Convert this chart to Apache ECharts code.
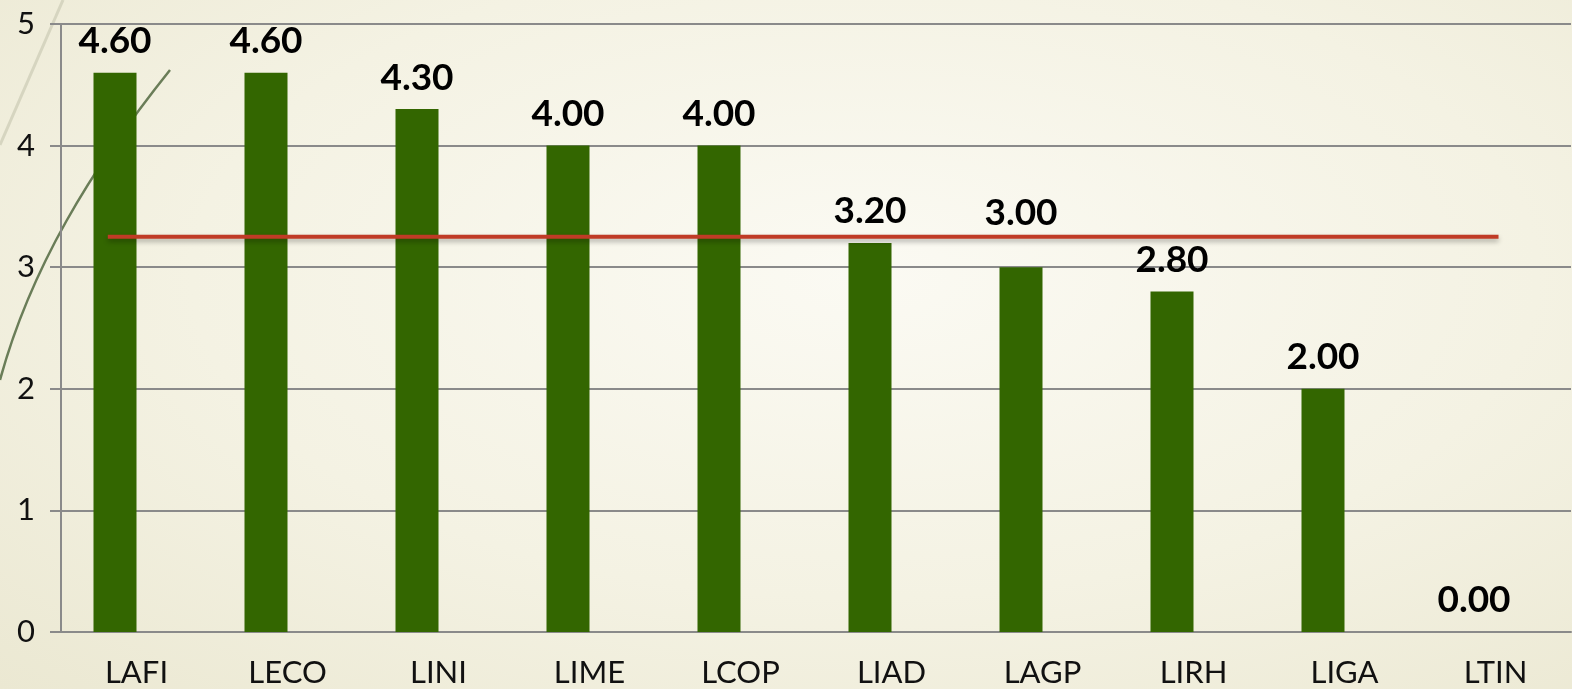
<!DOCTYPE html>
<html>
<head>
<meta charset="utf-8">
<script src="https://cdn.jsdelivr.net/npm/echarts@6/dist/echarts.min.js"></script>
<style>
  html, body { margin: 0; padding: 0; }
  #chart {
    width: 1572px; height: 689px;
    background: radial-gradient(ellipse at 55% 40%, #fbfaf3 0%, #f4f2e3 55%, #ebe8d2 100%);
  }
</style>
</head>
<body>
<div id="chart"></div>
<script>
// bar data
var categories = ['LAFI', 'LECO', 'LINI', 'LIME', 'LCOP', 'LIAD', 'LAGP', 'LIRH', 'LIGA', 'LTIN']
var scores = [4.6, 4.6, 4.3, 4.0, 4.0, 3.2, 3.0, 2.8, 2.0, 0.0]
// average line, drawn on a hidden 0..10 value axis (category units)
var avgSpan = [0.31, 9.52]
var yTicks = [0, 1, 2, 3, 4, 5]

var avg = scores.reduce(function(a, b) { return a + b }, 0) / scores.length
var avgLine = avgSpan.map(function(x) { return [x, avg] })

var labelFont = 'Lato, "DejaVu Sans", sans-serif'

// a label whose text would be crossed by the average line gets lifted above it
var barData = scores.map(function(v) {
  if (v + 0.16 < avg && v + 0.38 > avg) {
    return { value: v, label: { distance: 36 } }
  }
  return v
})

var chart = echarts.init(document.getElementById('chart'))
chart.setOption({
  animation: false,
  grid: { left: 61, right: 1, top: 24, bottom: 57 },
  xAxis: [{
    type: 'category',
    data: categories,
    axisLine: { lineStyle: { color: '#8a8a8a', width: 2 } },
    axisTick: { length: 11, lineStyle: { color: '#8a8a8a', width: 2 } },
    axisLabel: { color: '#111', fontSize: 31, fontFamily: labelFont, margin: 25 }
  }, {
    type: 'value',
    min: 0,
    max: 10,
    show: false
  }],
  yAxis: {
    type: 'value',
    min: yTicks[0],
    max: yTicks[yTicks.length - 1],
    interval: 1,
    axisLine: { show: true, lineStyle: { color: '#8a8a8a', width: 2 } },
    axisTick: { show: true, length: 11, lineStyle: { color: '#8a8a8a', width: 2 } },
    splitLine: { lineStyle: { color: '#8a8a8a', width: 2 } },
    axisLabel: { color: '#111', fontSize: 31, fontFamily: labelFont, margin: 26 }
  },
  graphic: [{
    type: 'line',
    shape: { x1: 63, y1: 0, x2: 0, y2: 145 },
    style: { stroke: '#d6d5c0', lineWidth: 3 },
    z: -1
  }, {
    type: 'bezierCurve',
    shape: { x1: 170, y1: 70, cpx1: 90, cpy1: 170, cpx2: 30, cpy2: 270, x2: 0, y2: 380 },
    style: { stroke: '#6a7d58', lineWidth: 2.5, fill: null },
    z: -1
  }],
  series: [{
    type: 'bar',
    data: barData,
    barWidth: 43,
    barGap: '0%',
    itemStyle: { color: '#336600' },
    label: {
      show: true,
      position: 'top',
      distance: 13,
      color: '#000',
      fontSize: 37,
      fontWeight: 'bold',
      fontFamily: labelFont,
      formatter: function(p) { return p.value.toFixed(2) }
    },
    z: 2
  }, {
    type: 'bar',
    data: scores.map(function() { return null }),
    barWidth: 43
  }, {
    type: 'line',
    xAxisIndex: 1,
    data: avgLine,
    symbol: 'none',
    lineStyle: {
      color: '#c03b26',
      width: 4,
      shadowColor: 'rgba(0,0,0,0.3)',
      shadowBlur: 5,
      shadowOffsetY: 3
    },
    z: 5
  }]
})
</script>
</body>
</html>
